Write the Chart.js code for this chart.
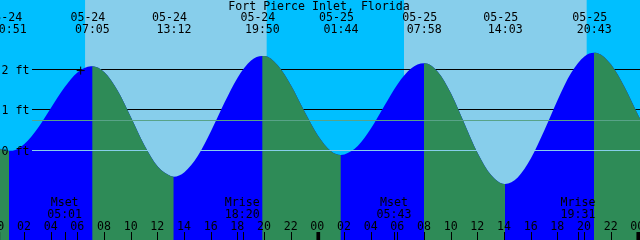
<!DOCTYPE html>
<html><head><meta charset="utf-8">
<script src="https://cdn.jsdelivr.net/npm/chart.js@4.4.1/dist/chart.umd.min.js"></script>
<style>html,body{margin:0;padding:0;background:#00BFFF;overflow:hidden}#wrap{width:640px;height:240px}</style>
</head><body><div id="wrap"><canvas id="c" width="640" height="240"></canvas></div>
<script>
const chartTitle = 'Fort Pierce Inlet, Florida';
// hours after 05-24 00:00 and tide height in feet
const tideHours = [-1, 0, 0.85, 1, 2, 3, 4, 5, 6, 7, 7.083, 8, 9, 10, 11, 12, 13, 13.2, 14, 15, 16, 17, 18, 19, 19.833, 20, 21, 22, 23, 24, 25, 25.733, 26, 27, 28, 29, 30, 31, 31.967, 32, 33, 34, 35, 36, 37, 38, 38.05, 39, 40, 41, 42, 43, 44, 44.717, 45, 46, 47, 48, 49];
const tideFeet = [0.46, 0.07, -0.02, -0.02, 0.15, 0.54, 1.05, 1.55, 1.93, 2.08, 2.08, 1.93, 1.47, 0.81, 0.12, -0.41, -0.65, -0.66, -0.55, -0.15, 0.47, 1.17, 1.80, 2.22, 2.33, 2.33, 2.10, 1.60, 0.96, 0.37, -0.03, -0.12, -0.11, 0.10, 0.54, 1.10, 1.64, 2.02, 2.15, 2.15, 1.94, 1.40, 0.66, -0.08, -0.62, -0.84, -0.84, -0.68, -0.20, 0.49, 1.25, 1.91, 2.32, 2.41, 2.40, 2.12, 1.57, 0.89, 0.27];
// highs and lows
const extremeHours = [0.85, 7.083, 13.2, 19.833, 25.733, 31.967, 38.05, 44.717];
const extremeKinds = ['L', 'H', 'L', 'H', 'L', 'H', 'L', 'H'];
const extremeDates = ['05-24', '05-24', '05-24', '05-24', '05-25', '05-25', '05-25', '05-25'];
const extremeTimes = ['00:51', '07:05', '13:12', '19:50', '01:44', '07:58', '14:03', '20:43'];
// daylight
const sunriseHours = [6.55, 30.47];
const sunsetHours = [20.17, 44.17];
// moon
const moonHours = [5.017, 18.333, 29.717, 43.517];
const moonKinds = ['Mset', 'Mrise', 'Mset', 'Mrise'];
const moonTimes = ['05:01', '18:20', '05:43', '19:31'];
// bottom hour axis
const hourTicks = [0, 2, 4, 6, 8, 10, 12, 14, 16, 18, 20, 22, 24, 26, 28, 30, 32, 34, 36, 38, 40, 42, 44, 46, 48];
const hourLabels = ['00', '02', '04', '06', '08', '10', '12', '14', '16', '18', '20', '22', '00', '02', '04', '06', '08', '10', '12', '14', '16', '18', '20', '22', '00'];
const midnightHours = [0, 24, 48];
// depth lines
const depthValues = [0, 1, 2];
const depthLabels = ['0 ft', '1 ft', '2 ft'];
const meanLevelFeet = 0.74;
// current time marker
const nowHour = [6.22];
const nowFeet = [1.97];

const FONT = '11.6px "DejaVu Sans Mono", monospace';
const RISE = '#0000FF', FALL = '#2E8B57';

function isRising(h) {
  let kind = null;
  for (let i = 0; i < extremeHours.length; i++) if (extremeHours[i] <= h) kind = extremeKinds[i];
  if (kind === null) return extremeKinds[0] === 'H';
  return kind === 'L';
}

const tidePlugin = {
  id: 'tide',
  beforeDraw(chart) {
    const {ctx} = chart; const x = chart.scales.x;
    ctx.save();
    ctx.fillStyle = '#00BFFF';
    ctx.fillRect(0, 0, chart.width, chart.height);
    ctx.fillStyle = '#87CEEB';
    for (let i = 0; i < sunriseHours.length; i++) {
      const a = x.getPixelForValue(sunriseHours[i]), b = x.getPixelForValue(sunsetHours[i]);
      ctx.fillRect(a, 0, b - a, chart.height);
    }
    ctx.restore();
  },
  beforeDatasetsDraw(chart) {
    const {ctx} = chart; const y = chart.scales.y;
    ctx.save();
    ctx.strokeStyle = '#000';
    ctx.lineWidth = 1;
    depthValues.forEach(v => {
      if (v === 0) return;
      const py = Math.floor(y.getPixelForValue(v)) + 0.5;
      ctx.beginPath(); ctx.moveTo(32, py); ctx.lineTo(chart.width, py); ctx.stroke();
    });
    ctx.restore();
  },
  afterDatasetsDraw(chart) {
    const {ctx} = chart; const x = chart.scales.x, y = chart.scales.y;
    ctx.save();
    ctx.lineWidth = 1;
    let py = Math.floor(y.getPixelForValue(meanLevelFeet)) + 0.5;
    ctx.strokeStyle = '#58A388';
    ctx.beginPath(); ctx.moveTo(32, py); ctx.lineTo(chart.width, py); ctx.stroke();
    py = Math.floor(y.getPixelForValue(0)) + 0.5;
    ctx.strokeStyle = '#87CEEB';
    ctx.beginPath(); ctx.moveTo(32, py); ctx.lineTo(chart.width, py); ctx.stroke();

    ctx.fillStyle = '#000';
    ctx.font = FONT;
    ctx.textBaseline = 'alphabetic';
    // depth labels
    ctx.textAlign = 'left';
    depthValues.forEach((v, i) => {
      ctx.fillText(depthLabels[i], 1.5, Math.floor(y.getPixelForValue(v)) + 4.5);
    });
    // title
    ctx.textAlign = 'center';
    ctx.fillText(chartTitle, 319, 10);
    // extremes
    extremeHours.forEach((h, i) => {
      const px = x.getPixelForValue(h);
      ctx.fillText(extremeDates[i], px - 4.3, 20.7);
      ctx.fillText(extremeTimes[i], px + 0.2, 33.3);
    });
    // moon
    moonHours.forEach((h, i) => {
      const px = x.getPixelForValue(h);
      ctx.fillText(moonKinds[i], px, 206);
      ctx.fillText(moonTimes[i], px, 218.3);
      ctx.fillRect(Math.floor(px) + 1, 232, 1, 8);
    });
    // hour axis
    hourTicks.forEach((h, i) => {
      const px = x.getPixelForValue(h);
      ctx.fillText(hourLabels[i], px - 0.4, 230);
      ctx.fillRect(Math.floor(px), 232, 1, 8);
    });
    midnightHours.forEach(h => {
      const px = x.getPixelForValue(h);
      ctx.fillRect(px - 1.3, 232, 3.7, 8);
    });
    ctx.restore();
  }
};

const tidePoints = tideHours.map((h, i) => ({x: h, y: tideFeet[i]}));
const nowPoints = nowHour.map((h, i) => ({x: h, y: nowFeet[i]}));

new Chart(document.getElementById('c'), {
  type: 'line',
  data: {
    datasets: [
      {
        data: nowPoints,
        showLine: false,
        pointStyle: 'cross',
        pointRadius: 4,
        pointBorderWidth: 1,
        pointBorderColor: '#000',
        pointBackgroundColor: '#000'
      },
      {
        // falling parts (drawn over the rising fill)
        data: tidePoints,
        fill: 'start',
        cubicInterpolationMode: 'monotone',
        borderColor: 'rgba(0,0,0,0)',
        borderWidth: 1,
        pointRadius: 0,
        backgroundColor: FALL,
        segment: {
          backgroundColor: c => isRising((c.p0.parsed.x + c.p1.parsed.x) / 2) ? 'rgba(0,0,0,0)' : FALL
        }
      },
      {
        // whole tide area in the rising colour
        data: tidePoints,
        fill: 'start',
        cubicInterpolationMode: 'monotone',
        borderColor: 'rgba(0,0,0,0)',
        borderWidth: 1,
        pointRadius: 0,
        backgroundColor: RISE
      }
    ]
  },
  options: {
    responsive: false,
    animation: false,
    devicePixelRatio: 1,
    layout: {padding: 0, autoPadding: false},
    plugins: {legend: {display: false}, tooltip: {enabled: false}, title: {display: false}},
    events: [],
    scales: {
      x: {type: 'linear', display: false, min: 0.17, max: 48.17},
      y: {type: 'linear', display: false, min: -2.23, max: 3.72}
    }
  },
  plugins: [tidePlugin]
});
</script>
</body></html>
